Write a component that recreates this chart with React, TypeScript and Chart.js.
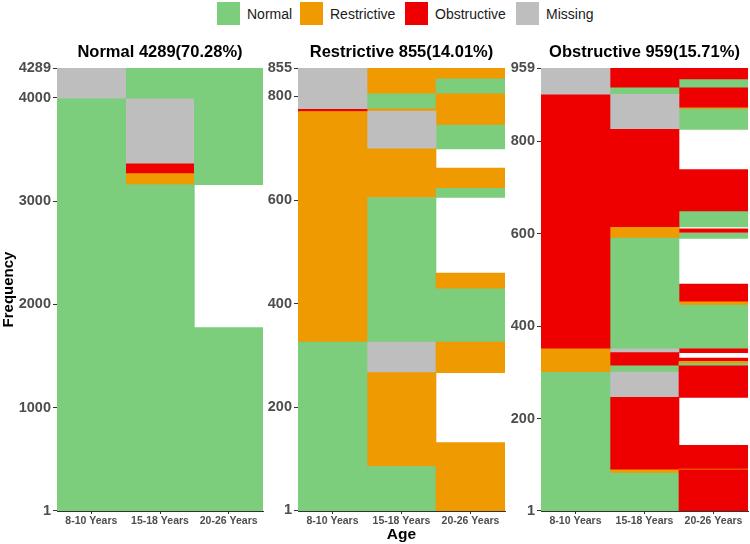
import { useEffect, useRef } from "react";
import { Chart, registerables } from "chart.js";

Chart.register(...registerables);
Chart.defaults.font.family = "'Liberation Sans', Arial, sans-serif";

type Seg = [number, number, string];

const ages = ["8-10 Years", "15-18 Years", "20-26 Years"];
const categories = ["Normal", "Restrictive", "Obstructive", "Missing"];
const categoryColors = ["#7CCD7C", "#EE9A00", "#EE0000", "#BEBEBE"];

// Panel 1: Normal 4289
const normalTicks = [1, 1000, 2000, 3000, 4000, 4289];
const normal_8_10: Seg[] = [[0, 3990, "Normal"], [3990, 4289, "Missing"]];
const normal_15_18: Seg[] = [
  [0, 3160, "Normal"], [3160, 3267, "Restrictive"], [3267, 3360, "Obstructive"],
  [3360, 3990, "Missing"], [3990, 4289, "Normal"],
];
const normal_20_26: Seg[] = [[0, 1775, "Normal"], [3160, 4289, "Normal"]];

// Panel 2: Restrictive 855
const restrictiveTicks = [1, 200, 400, 600, 800, 855];
const restrictive_8_10: Seg[] = [
  [0, 326, "Normal"], [326, 771, "Restrictive"], [771, 775, "Obstructive"], [775, 855, "Missing"],
];
const restrictive_15_18: Seg[] = [
  [0, 86, "Normal"], [86, 267, "Restrictive"], [267, 326, "Missing"], [326, 605, "Normal"],
  [605, 699, "Restrictive"], [699, 772, "Missing"], [772, 776, "Restrictive"],
  [776, 805, "Normal"], [805, 855, "Restrictive"],
];
const restrictive_20_26: Seg[] = [
  [0, 132, "Restrictive"], [267, 326, "Restrictive"], [326, 429, "Normal"], [429, 459, "Restrictive"],
  [605, 623, "Normal"], [623, 662, "Restrictive"], [699, 745, "Normal"], [745, 805, "Restrictive"],
  [805, 834, "Normal"], [834, 855, "Restrictive"],
];

// Panel 3: Obstructive 959
const obstructiveTicks = [1, 200, 400, 600, 800, 959];
const obstructive_8_10: Seg[] = [
  [0, 300, "Normal"], [300, 351, "Restrictive"], [351, 901, "Obstructive"], [901, 959, "Missing"],
];
const obstructive_15_18: Seg[] = [
  [0, 82, "Normal"], [82, 89, "Restrictive"], [89, 246, "Obstructive"], [246, 301, "Missing"],
  [301, 314, "Normal"], [314, 343, "Obstructive"], [343, 351, "Missing"], [351, 591, "Normal"],
  [591, 614, "Restrictive"], [614, 826, "Obstructive"], [826, 902, "Missing"],
  [902, 916, "Normal"], [916, 959, "Obstructive"],
];
const obstructive_20_26: Seg[] = [
  [0, 89, "Obstructive"], [89, 91, "Restrictive"], [91, 142, "Obstructive"],
  [246, 314, "Obstructive"], [314, 319, "Normal"], [319, 324, "Restrictive"], [324, 331, "Obstructive"],
  [343, 351, "Obstructive"], [351, 446, "Normal"], [446, 453, "Restrictive"], [453, 491, "Obstructive"],
  [590, 601, "Normal"], [603, 611, "Obstructive"], [615, 648, "Normal"], [648, 739, "Obstructive"],
  [826, 870, "Normal"], [870, 873, "Restrictive"], [873, 916, "Obstructive"],
  [916, 934, "Normal"], [934, 959, "Obstructive"],
];

const colorOf = (c: string) => categoryColors[categories.indexOf(c)];

type PanelProps = {
  left: number;
  width: number;
  yWidth: number;
  padRight: number;
  title: string;
  max: number;
  ticks: number[];
  columns: Seg[][];
  yTitle: string;
  xTitle: string;
};

const TOP = 30;
const HEIGHT = 514;

function Panel(p: PanelProps) {
  const ref = useRef<HTMLCanvasElement>(null);
  useEffect(() => {
    if (!ref.current) return;
    const n = Math.max(...p.columns.map((c) => c.length));
    const datasets: any[] = [];
    for (let i = 0; i < n; i++) {
      datasets.push({
        data: p.columns.map((c) => (c[i] ? [c[i][0], c[i][1]] : null)),
        backgroundColor: p.columns.map((c) => (c[i] ? colorOf(c[i][2]) : "rgba(0,0,0,0)")),
        borderWidth: 0,
        barPercentage: 1,
        categoryPercentage: 1,
        grouped: false,
      });
    }
    const chart = new Chart(ref.current, {
      type: "bar",
      data: { labels: ages, datasets },
      options: {
        animation: false,
        responsive: false,
        events: [],
        layout: { padding: { left: 0, right: p.padRight, top: 0, bottom: 0 } },
        plugins: {
          legend: { display: false },
          tooltip: { enabled: false },
          title: {
            display: true,
            text: p.title,
            fullSize: false,
            color: "#000",
            font: { size: 16.5, weight: "bold" },
            padding: { top: 12.5, bottom: 5.7 },
          },
        },
        scales: {
          x: {
            type: "category",
            offset: true,
            grid: { drawOnChartArea: false, drawTicks: true, tickLength: 3, color: "#333", offset: false },
            border: { display: true, color: "#333", width: 1 },
            ticks: { color: "#4d4d4d", font: { size: 10.5, weight: "bold" }, padding: 1, maxRotation: 0, autoSkip: false },
            title: {
              display: p.xTitle !== "",
              text: p.xTitle,
              color: "#000",
              font: { size: 15.5, weight: "bold" },
              padding: { top: 0, bottom: 0 },
            },
            afterFit: (s: any) => { s.height = 33; },
          },
          y: {
            type: "linear",
            min: 0,
            max: p.max,
            grid: { drawOnChartArea: false, drawTicks: true, tickLength: 4, color: "#333" },
            border: { display: true, color: "#333", width: 1 },
            ticks: {
              color: "#4d4d4d",
              font: { size: 14.5, weight: "bold" },
              padding: 2,
              autoSkip: false,
              callback: (v: any) => String(v),
            },
            afterBuildTicks: (s: any) => { s.ticks = p.ticks.map((v) => ({ value: v })); },
            title: {
              display: p.yTitle !== "",
              text: p.yTitle,
              color: "#000",
              font: { size: 15, weight: "bold" },
              padding: 0,
            },
            afterFit: (s: any) => { s.width = p.yWidth; },
          },
        },
      } as any,
    });
    return () => chart.destroy();
  }, []);
  return (
    <div style={{ position: "absolute", left: p.left, top: TOP, width: p.width, height: HEIGHT }}>
      <canvas ref={ref} width={p.width} height={HEIGHT} style={{ width: p.width, height: HEIGHT, display: "block" }} />
    </div>
  );
}

const legendOffsets = [217, 300, 405, 516];

export default function App() {
  return (
    <div style={{ position: "absolute", left: 0, top: 0, width: 750, height: 544, background: "#fff", overflow: "hidden", fontFamily: "'Liberation Sans', Arial, sans-serif" }}>
      {categories.map((c, i) => (
        <div key={c} style={{ position: "absolute", left: legendOffsets[i], top: 2, height: 23, display: "flex", alignItems: "center" }}>
          <div style={{ width: 23, height: 23, background: categoryColors[i] }} />
          <span style={{ marginLeft: 7, fontSize: 14, color: "#1a1a1a", whiteSpace: "nowrap" }}>{c}</span>
        </div>
      ))}
      <Panel left={0} width={268} yWidth={57} padRight={5} title="Normal 4289(70.28%)" max={4289}
        ticks={normalTicks} columns={[normal_8_10, normal_15_18, normal_20_26]} yTitle="Frequency" xTitle="" />
      <Panel left={268} width={240} yWidth={30} padRight={3} title="Restrictive 855(14.01%)" max={855}
        ticks={restrictiveTicks} columns={[restrictive_8_10, restrictive_15_18, restrictive_20_26]} yTitle="" xTitle="Age" />
      <Panel left={508} width={242} yWidth={33} padRight={2} title="Obstructive 959(15.71%)" max={959}
        ticks={obstructiveTicks} columns={[obstructive_8_10, obstructive_15_18, obstructive_20_26]} yTitle="" xTitle="" />
    </div>
  );
}
